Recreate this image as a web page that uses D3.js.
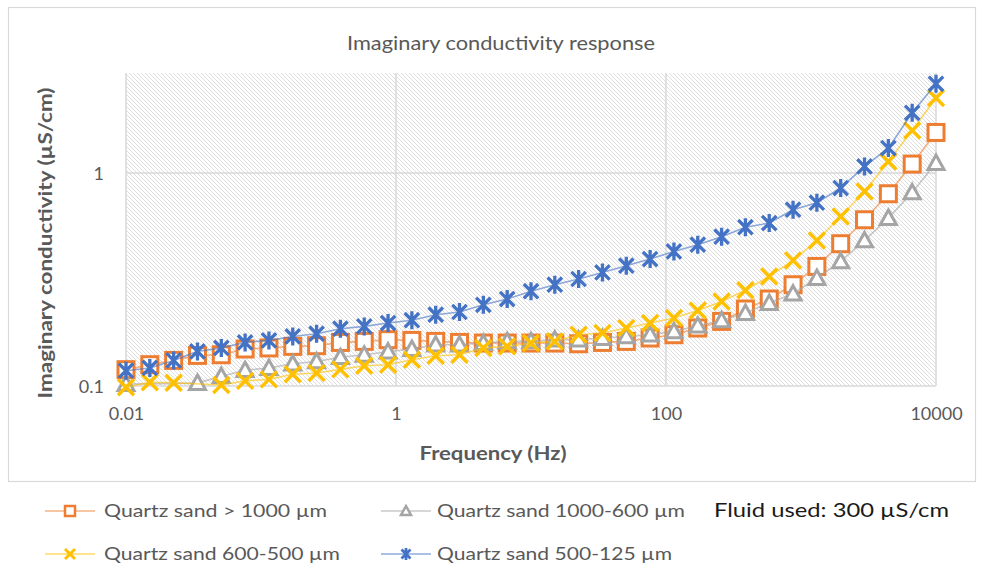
<!DOCTYPE html>
<html>
<head>
<meta charset="utf-8">
<script src="https://cdn.jsdelivr.net/npm/d3@7"></script>
<style>
  html, body { margin: 0; padding: 0; background: #fff; }
  svg { display: block; }
  text { font-family: Lato, "Open Sans", "Noto Sans", sans-serif; }
</style>
</head>
<body>
<svg id="chart" width="982" height="570"></svg>
<script>
// ---------- data ----------
const frequencies = [0.01, 0.01501, 0.02254, 0.03384, 0.0508, 0.07626, 0.1145, 0.1719, 0.2581, 0.3875,
  0.5817, 0.8733, 1.311, 1.968, 2.955, 4.437, 6.661, 10, 15.01, 22.54,
  33.84, 50.8, 76.26, 114.5, 171.9, 258.1, 387.5, 581.7, 873.3, 1311,
  1968, 2955, 4437, 6661, 10000];

const sandOver1000 = [0.1193, 0.1259, 0.1319, 0.1392, 0.1402, 0.1492, 0.1509, 0.1535, 0.1546, 0.1602,
  0.162, 0.165, 0.1637, 0.162, 0.1602, 0.1591, 0.1591, 0.1591, 0.1591, 0.1579,
  0.1602, 0.162, 0.168, 0.1741, 0.1872, 0.2011, 0.2299, 0.2561, 0.2989, 0.3643,
  0.4657, 0.6035, 0.7994, 1.102, 1.551];

const sand1000to600 = [0.102, null, null, 0.1032, 0.1112, 0.1186, 0.1215, 0.1273, 0.1304, 0.1365,
  0.1402, 0.1449, 0.1492, 0.1563, 0.1563, 0.1591, 0.162, 0.162, 0.165, 0.165,
  0.168, 0.1709, 0.1741, 0.1805, 0.1919, 0.2032, 0.2202, 0.2453, 0.2713, 0.3214,
  0.3846, 0.4826, 0.6146, 0.8107, 1.114];

const sand600to500 = [0.0987, 0.1042, 0.1036, null, 0.1011, 0.1057, 0.1074, 0.1136, 0.1151, 0.1197,
  0.1245, 0.1259, 0.1329, 0.1388, 0.1402, 0.1509, 0.1535, 0.1591, 0.162, 0.1741,
  0.1773, 0.1872, 0.1976, 0.2086, 0.2264, 0.2495, 0.2817, 0.327, 0.3888, 0.4826,
  0.6253, 0.8196, 1.134, 1.585, 2.249];

const sand500to125 = [0.118, 0.1215, 0.1319, 0.1454, 0.1509, 0.1602, 0.1637, 0.1709, 0.176, 0.1858,
  0.1905, 0.1976, 0.2037, 0.2162, 0.2226, 0.2407, 0.2561, 0.2787, 0.2989, 0.318,
  0.3414, 0.3671, 0.3947, 0.4283, 0.4607, 0.5024, 0.5567, 0.5825, 0.6726, 0.7254,
  0.8503, 1.074, 1.31, 1.919, 2.626];

const seriesNames = ["Quartz sand > 1000 µm", "Quartz sand 1000-600 µm", "Quartz sand 600-500 µm", "Quartz sand 500-125 µm"];
const xTickValues = [0.01, 1, 100, 10000];
const xTickLabels = ["0.01", "1", "100", "10000"];
const yTickValues = [0.1, 1];
const yTickLabels = ["0.1", "1"];
const titleText = "Imaginary conductivity response";
const xTitleText = "Frequency (Hz)";
const yTitleText = "Imaginary conductivity (µS/cm)";
const noteText = "Fluid used: 300 µS/cm";

// ---------- layout ----------
const svg = d3.select("#chart");
const L = 126, R = 936, T = 73, B = 386;
const x = d3.scaleLog().domain([0.01, 10000]).range([L, R]);
const y = d3.scaleLog().domain([0.1, 2.95]).range([B, T]);

const series = [
  { name: seriesNames[0], values: sandOver1000, color: "#ED7D31", shape: "square" },
  { name: seriesNames[1], values: sand1000to600, color: "#A5A5A5", shape: "triangle" },
  { name: seriesNames[2], values: sand600to500, color: "#FFC000", shape: "x" },
  { name: seriesNames[3], values: sand500to125, color: "#4472C4", shape: "star" }
];

// chart border
svg.append("rect").attr("x", 8.5).attr("y", 7.5).attr("width", 967).attr("height", 474)
  .attr("fill", "#fff").attr("stroke", "#d9d9d9").attr("stroke-width", 1.2);

// hatch pattern
const defs = svg.append("defs");
const pat = defs.append("pattern").attr("id", "hatch").attr("patternUnits", "userSpaceOnUse")
  .attr("width", 4).attr("height", 4);
pat.append("rect").attr("width", 4).attr("height", 4).attr("fill", "#fff");
pat.append("path").attr("d", "M-1,-1 L5,5 M-1,3 L1,5 M3,-1 L5,1")
  .attr("stroke", "#dedede").attr("stroke-width", 1);

svg.append("rect").attr("x", L).attr("y", T).attr("width", R - L).attr("height", B - T)
  .attr("fill", "url(#hatch)");

// gridlines
const grid = svg.append("g").attr("stroke", "#d9d9d9").attr("stroke-width", 1.5);
xTickValues.forEach(v => grid.append("line").attr("x1", x(v)).attr("x2", x(v)).attr("y1", T).attr("y2", B));
yTickValues.forEach(v => grid.append("line").attr("x1", L).attr("x2", R).attr("y1", y(v)).attr("y2", y(v)));

// axes (labels only)
const xAxis = d3.axisBottom(x).tickValues(xTickValues).tickSize(0).tickPadding(0)
  .tickFormat((d, i) => xTickLabels[i]);
const gx = svg.append("g").attr("transform", `translate(0,${B + 34})`).call(xAxis);
gx.select(".domain").remove();
gx.selectAll("text").attr("font-size", 18).attr("fill", "#595959").attr("dy", 0)
  .style("font-family", "Lato, 'Open Sans', sans-serif");

const yAxis = d3.axisLeft(y).tickValues(yTickValues).tickSize(0).tickPadding(0)
  .tickFormat((d, i) => yTickLabels[i]);
const gy = svg.append("g").attr("transform", `translate(${L - 22},0)`).call(yAxis);
gy.select(".domain").remove();
gy.selectAll("text").attr("font-size", 18).attr("fill", "#595959").attr("dy", "0.35em")
  .style("font-family", "Lato, 'Open Sans', sans-serif");

// titles
svg.append("text").attr("x", 501).attr("y", 50).attr("text-anchor", "middle")
  .attr("font-size", 19).attr("fill", "#595959")
  .attr("textLength", 308).attr("lengthAdjust", "spacingAndGlyphs").text(titleText);
svg.append("text").attr("x", 493).attr("y", 460).attr("text-anchor", "middle")
  .attr("font-size", 19).attr("font-weight", "bold").attr("fill", "#595959")
  .attr("textLength", 147).attr("lengthAdjust", "spacingAndGlyphs").text(xTitleText);
svg.append("text").attr("transform", "translate(52,243) rotate(-90)").attr("text-anchor", "middle")
  .attr("font-size", 19).attr("font-weight", "bold").attr("fill", "#595959")
  .attr("textLength", 311).attr("lengthAdjust", "spacingAndGlyphs").text(yTitleText);

// marker drawing
function drawMarker(g, shape, color, s, sw) {
  const h = s / 2;
  if (shape === "square") {
    g.append("rect").attr("x", -h).attr("y", -h).attr("width", s).attr("height", s)
      .attr("fill", "#fff").attr("stroke", color).attr("stroke-width", sw);
  } else if (shape === "triangle") {
    g.append("path").attr("d", `M0,${-h} L${h},${h * 0.8} L${-h},${h * 0.8} Z`)
      .attr("fill", "#fff").attr("stroke", color).attr("stroke-width", sw).attr("stroke-linejoin", "miter");
  } else if (shape === "x") {
    g.append("path").attr("d", `M${-h},${-h} L${h},${h} M${h},${-h} L${-h},${h}`)
      .attr("stroke", color).attr("stroke-width", sw * 1.15);
  } else if (shape === "star") {
    const a = h * 0.9;
    g.append("path").attr("d", `M${-a},${-a} L${a},${a} M${a},${-a} L${-a},${a} M0,${-h - 1} L0,${h + 1}`)
      .attr("stroke", color).attr("stroke-width", sw * 1.1);
  }
}

const lineGen = d3.line().x(d => x(d.f)).y(d => y(d.v));

series.forEach(s => {
  const pts = frequencies.map((f, i) => ({ f, v: s.values[i] })).filter(d => d.v != null);
  const g = svg.append("g");
  g.append("path").attr("d", lineGen(pts)).attr("fill", "none")
    .attr("stroke", s.color).attr("stroke-opacity", 0.6).attr("stroke-width", 1.6);
  pts.forEach(d => {
    const m = g.append("g").attr("transform", `translate(${x(d.f)},${y(d.v)})`);
    drawMarker(m, s.shape, s.color, 16, 3);
  });
});

// legend
const legendItems = [
  { s: series[0], lx: 45, cy: 511, tx: 104, tw: 223 },
  { s: series[1], lx: 381, cy: 511, tx: 437, tw: 248 },
  { s: series[2], lx: 45, cy: 554, tx: 104, tw: 236 },
  { s: series[3], lx: 381, cy: 554, tx: 437, tw: 235 }
];
legendItems.forEach(it => {
  const g = svg.append("g");
  g.append("line").attr("x1", it.lx).attr("x2", it.lx + 50).attr("y1", it.cy).attr("y2", it.cy)
    .attr("stroke", it.s.color).attr("stroke-opacity", 0.6).attr("stroke-width", 1.6);
  const m = g.append("g").attr("transform", `translate(${it.lx + 25},${it.cy})`);
  drawMarker(m, it.s.shape, it.s.color, 10, 2.5);
  g.append("text").attr("x", it.tx).attr("y", it.cy).attr("dy", "0.35em")
    .attr("font-size", 18).attr("fill", "#595959")
    .attr("textLength", it.tw).attr("lengthAdjust", "spacingAndGlyphs").text(it.s.name);
});
svg.append("text").attr("x", 714).attr("y", 510).attr("dy", "0.35em")
  .attr("font-size", 19).attr("fill", "#1a1a1a")
  .attr("textLength", 235).attr("lengthAdjust", "spacingAndGlyphs").text(noteText);
</script>
</body>
</html>
